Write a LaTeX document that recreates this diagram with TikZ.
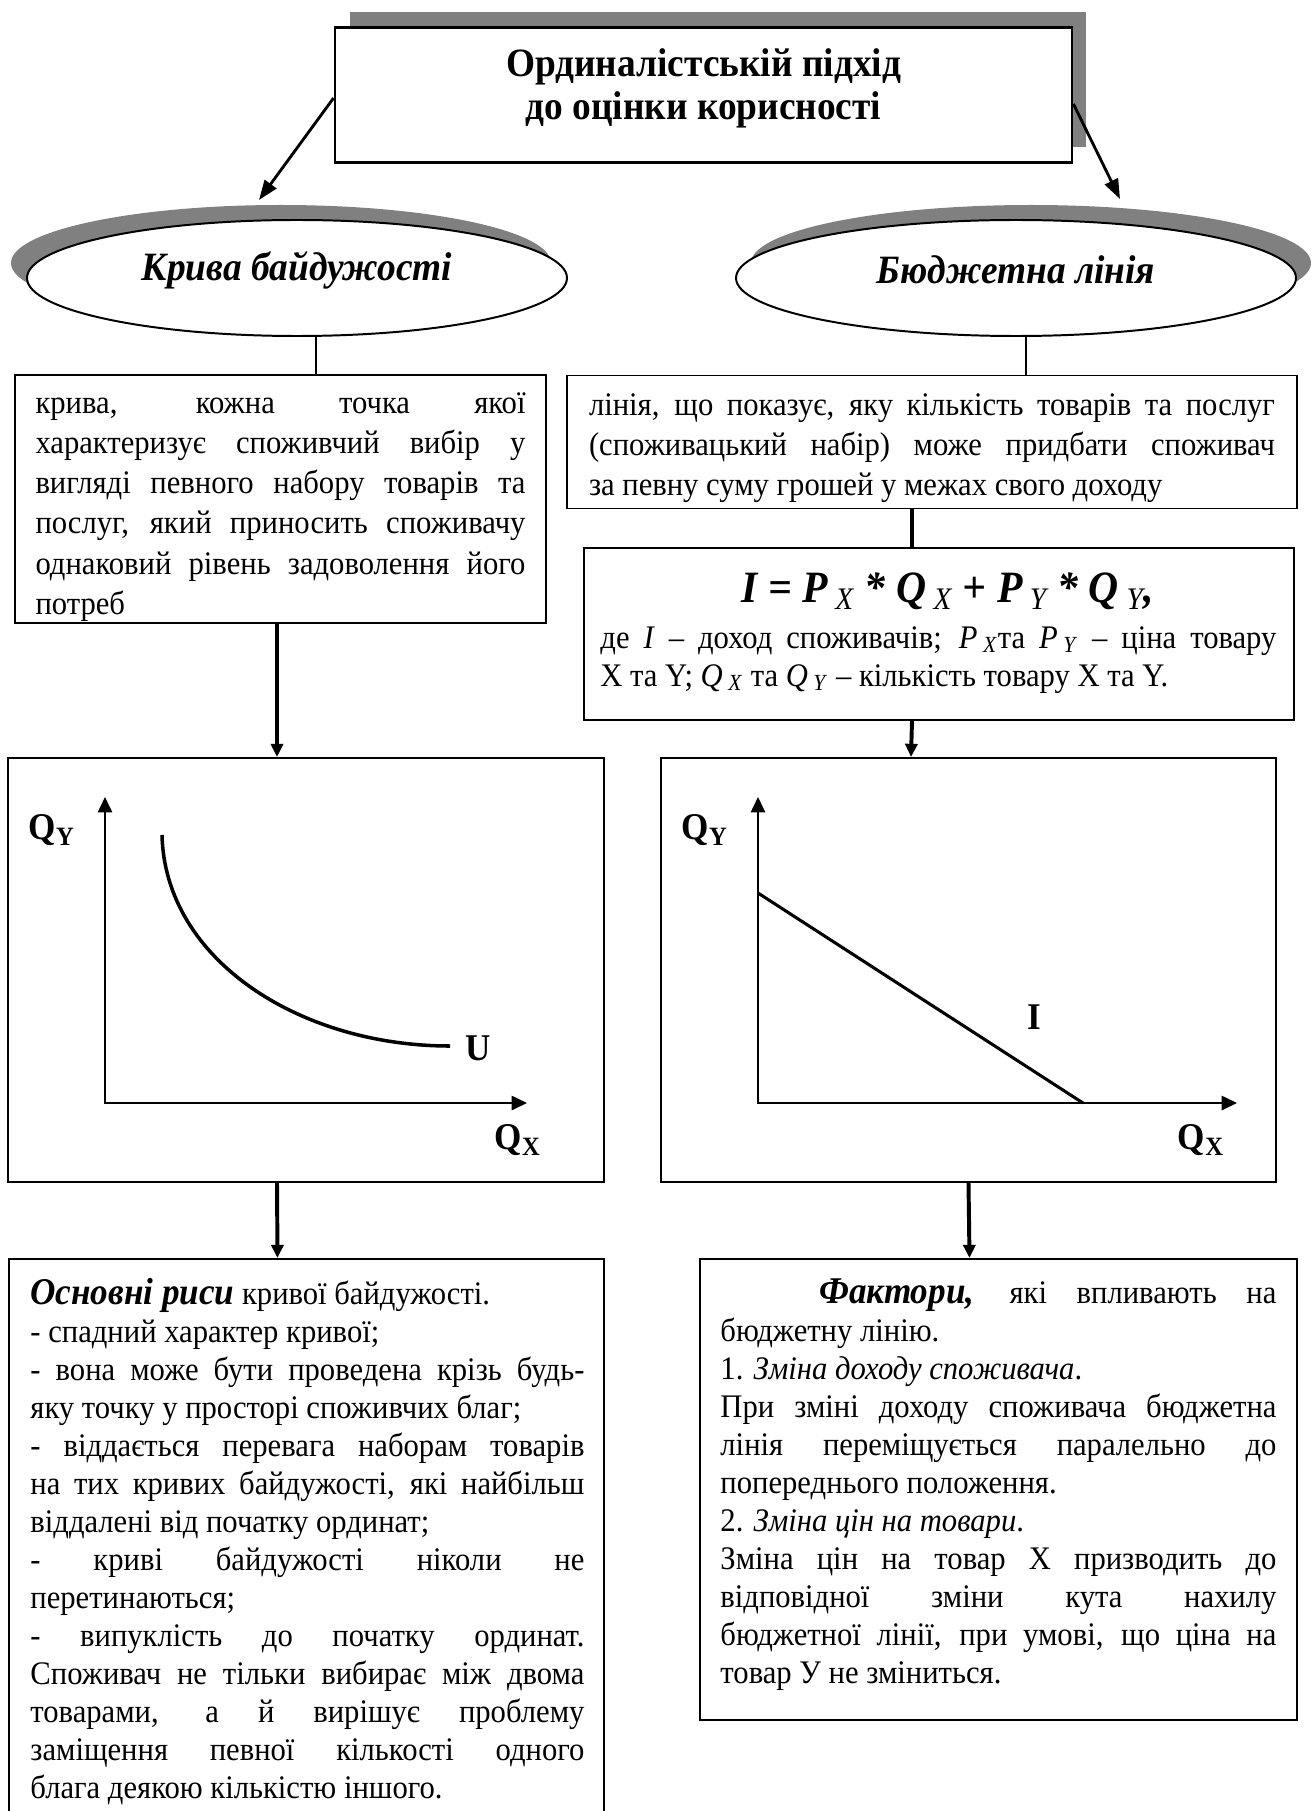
\documentclass[tikz,border=0pt]{standalone}
\usepackage{fontspec}
\setmainfont{Liberation Serif}[FakeStretch=0.93]
\usetikzlibrary{arrows.meta,shapes.geometric}
\newcommand\fsz[2]{\fontsize{#1}{#2}\selectfont}
\newcommand\lsub[1]{\textsubscript{\textit{#1}}}
\newcommand\fsub[1]{\textsubscript{\mdseries\itshape #1}}

\begin{document}
\begin{tikzpicture}[x=0.016cm,y=-0.016cm,
  bx/.style={draw,line width=0.9pt,inner sep=0pt},
  sh/.style={fill=black!50,draw=none},
  el/.style={ellipse,draw,fill=white,line width=0.9pt,inner sep=0pt},
  shel/.style={ellipse,fill=black!50,inner sep=0pt},
  hd/.style={font=\fsz{18.3pt}{21pt}\bfseries\itshape,inner sep=0pt},
  tx/.style={font=\fsz{15pt}{17.3pt},align=justify,inner sep=0pt,
    execute at begin node={\hyphenpenalty=10000\tolerance=10000\parindent=0pt}},
  fm/.style={font=\fsz{20.4pt}{23pt}\bfseries\itshape,inner sep=0pt},
  lab/.style={font=\fsz{17.2pt}{20pt}\bfseries,inner sep=0pt},
  tar/.style={-{Triangle[length=9pt,width=6.5pt]},line width=1.3pt},
  dar/.style={-{Triangle[length=6pt,width=5.5pt]},line width=1.8pt},
  dln/.style={line width=1.4pt},
  ln/.style={line width=0.7pt},
  axb/.style={{Triangle[length=7pt,width=6.5pt]}-{Triangle[length=7pt,width=6.5pt]},line width=0.9pt},
  cv/.style={line width=1.6pt}]
  \def\pu{0.016cm}
  \useasboundingbox (0,0) rectangle (1312,1811);
  % ---------- title with its shadow ----------
  \fill[sh] (350,12) rectangle (1086,147);
  \node[bx,line width=1.3pt,fill=white,minimum width=737*\pu,minimum height=135*\pu] (title) at (703.5,95) {};
  \node[align=center,inner sep=0pt,font=\fsz{18.3pt}{19.5pt}\bfseries] (ttl) at (703.5,88)
    {Ординалістській підхід\\до оцінки корисності};
  % ---------- two ellipses ----------
  \node[shel,minimum width=540*\pu,minimum height=116*\pu] (lsh) at (281,263) {};
  \node[el,minimum width=540*\pu,minimum height=116*\pu] (lell) at (297,278) {};
  \node[hd] (lname) at (297,270) {Крива байдужості};
  \node[shel,minimum width=560*\pu,minimum height=116*\pu] (rsh) at (1031,263) {};
  \node[el,minimum width=560*\pu,minimum height=116*\pu] (rell) at (1016,278) {};
  \node[hd] (rname) at (1016,270) {Бюджетна лінія};
  \coordinate (ltip) at (259,200);
  \coordinate (rtip) at (1120,199);
  \draw[tar] ([yshift=-3*\pu]title.west) -- (ltip);
  \draw[tar] ([yshift=-9*\pu]title.east) -- (rtip);
  % ---------- definitions ----------
  \node[bx,minimum width=531*\pu,minimum height=248*\pu] (ldef) at (280.5,499) {};
  \node[tx,font=\fsz{15pt}{18.3pt},text width=490*\pu] (ldtx) at (280.5,507)
    {крива, кожна точка якої\linebreak характеризує споживчий вибір у\linebreak
     вигляді певного набору товарів та\linebreak послуг, який приносить споживачу\linebreak
     однаковий рівень задоволення його\linebreak потреб};
  \node[bx,minimum width=730*\pu,minimum height=133*\pu] (rdef) at (932,442) {};
  \node[tx,font=\fsz{15pt}{18.3pt},text width=686*\pu] (rdtx) at (932,448)
    {лінія, що показує, яку кількість товарів та послуг\linebreak
     (споживацький набір) може придбати споживач\linebreak
     за певну суму грошей у межах свого доходу};
  \node[bx,minimum width=710*\pu,minimum height=172*\pu] (fbox) at (939,634) {};
  \node[fm] (form) at (948,591)
    {I = P\,\fsub{X} * Q\,\fsub{X} + P\,\fsub{Y} * Q\,\fsub{Y},};
  \node[tx,text width=676*\pu,anchor=north west] (fnote) at (600,626)
    {де \textit{I} – доход споживачів; \textit{P}\,\lsub{X}та \textit{P}\,\lsub{Y} – ціна товару\linebreak
     X та Y; \textit{Q}\,\lsub{X} та \textit{Q}\,\lsub{Y} – кількість товару X та Y.};
  \draw[ln] ([xshift=19*\pu]lell.south) -- ([xshift=35.5*\pu]ldef.north);
  \draw[ln] ([xshift=10*\pu]rell.south) -- ([xshift=94*\pu]rdef.north);
  \draw[dln] ([xshift=-20*\pu]rdef.south) -- ([xshift=-27*\pu]fbox.north);
  % ---------- indifference curve ----------
  \node[bx,minimum width=596*\pu,minimum height=424*\pu] (lgr) at (306,970) {};
  \draw[axb] (105,797) -- (105,1103) -- (527,1103);
  \draw[cv] (162,835) .. controls (165,960) and (300,1046) .. (450,1046);
  \node[lab] (ulab) at (478,1048) {U};
  \node[lab] (qy1) at (52,830) {Q\textsubscript{Y}};
  \node[lab] (qx1) at (518,1140) {Q\textsubscript{X}};
  % ---------- budget line ----------
  \node[bx,minimum width=615*\pu,minimum height=424*\pu] (rgr) at (968.5,970) {};
  \draw[axb] (758,797) -- (758,1103) -- (1237,1103);
  \draw[cv,line width=1.4pt] (758,893) -- (1083,1103);
  \node[lab] (ilab) at (1034,1017) {I};
  \node[lab] (qy2) at (705,830) {Q\textsubscript{Y}};
  \node[lab] (qx2) at (1201,1140) {Q\textsubscript{X}};
  \draw[dar] ([xshift=-3.5*\pu]ldef.south) -- ([xshift=-29*\pu]lgr.north);
  \draw[dar] ([xshift=-27*\pu]fbox.south) -- ([xshift=-57.5*\pu]rgr.north);
  % ---------- features and factors ----------
  \node[bx,minimum width=595*\pu,minimum height=571*\pu] (lbot) at (306.5,1544.5) {};
  \node[bx,minimum width=597*\pu,minimum height=461*\pu] (rbot) at (998.5,1489.5) {};
  \node[tx,text width=554*\pu,anchor=north west] (ltxt) at (30,1278)
    {{\fsz{17.2pt}{19pt}\bfseries\itshape Основні риси} кривої байдужості.\par
     - спадний характер кривої;\par
     - вона може бути проведена крізь будь-\linebreak яку точку у просторі споживчих благ;\par
     - віддається перевага наборам товарів\linebreak на тих кривих байдужості, які найбільш\linebreak
     віддалені від початку ординат;\par
     - криві байдужості ніколи не\linebreak перетинаються;\par
     - випуклість до початку ординат.\linebreak Споживач не тільки вибирає між двома\linebreak
     товарами, а й вирішує проблему\linebreak заміщення певної кількості одного\linebreak
     блага деякою кількістю іншого.};
  \node[tx,text width=556*\pu,anchor=north west] (rtxt) at (720,1278)
    {\hspace*{45pt}{\fsz{17.2pt}{19pt}\bfseries\itshape Фактори,} які впливають на\linebreak бюджетну лінію.\par
     1. \textit{Зміна доходу споживача}.\par
     При зміні доходу споживача бюджетна\linebreak лінія переміщується паралельно до\linebreak
     попереднього положення.\par
     2. \textit{Зміна цін на товари}.\par
     Зміна цін на товар Х призводить до\linebreak відповідної зміни кута нахилу\linebreak
     бюджетної лінії, при умові, що ціна на\linebreak товар У не зміниться.};
  \draw[dar] ([xshift=-29*\pu]lgr.south) -- ([xshift=-29*\pu]lbot.north);
  \draw[dar] (rgr.south) -- ([xshift=-29*\pu]rbot.north);
\end{tikzpicture}
\end{document}
